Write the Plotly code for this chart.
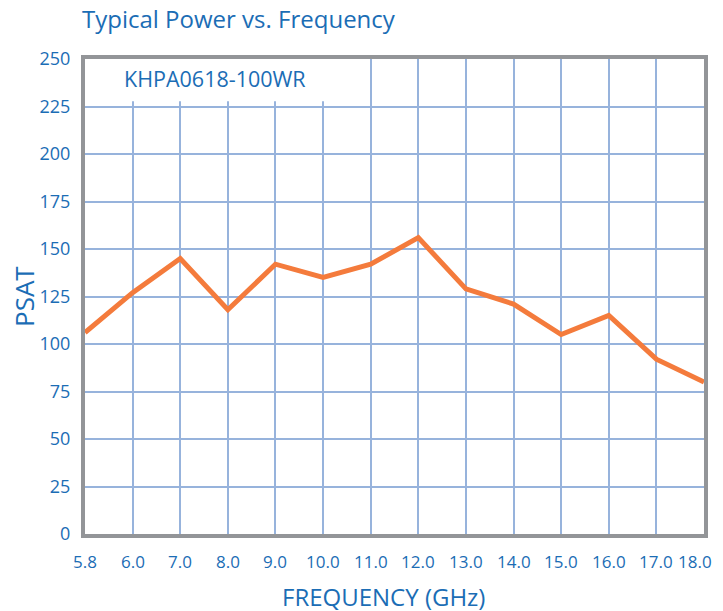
import plotly.graph_objects as go

freq_labels = ["5.8", "6.0", "7.0", "8.0", "9.0", "10.0", "11.0", "12.0",
               "13.0", "14.0", "15.0", "16.0", "17.0", "18.0"]
psat = [106, 127, 145, 118, 142, 135, 142, 156, 129, 121, 105, 115, 92, 80]
y_ticks = list(range(0, 251, 25))

BLUE = "#1b6db5"
GRID = "#97b3dc"
FRAME = "#939598"
ORANGE = "#f47b3c"
HUMAN = "Open Sans, sans-serif"

OFF = 8  # page body margin
W, H = 723 - OFF, 611 - OFF
L, R, T, B = 85 - OFF, 19, 59 - OFF, 77
PW, PH = W - L - R, H - T - B

fig = go.Figure()
fig.add_trace(go.Scatter(
    x=freq_labels, y=psat, mode="lines",
    line=dict(color=ORANGE, width=5),
    showlegend=False, hoverinfo="skip",
))

def px_x(p):
    return (p - OFF - L) / PW

def px_y(p):
    return (H - B - (p - OFF)) / PH

# x tick labels as axis-referenced annotations at each category index
# (last one nudged left so it stays inside the visible page)
tick_annotations = []
for i, lab in enumerate(freq_labels):
    last = i == len(freq_labels) - 1
    tick_annotations.append(dict(
        text=lab, xref="x", yref="paper", x=i, y=0,
        xanchor="center", yanchor="middle", yshift=-27,
        xshift=-9 if last else 0, showarrow=False,
        font=dict(family=HUMAN, size=17, color=BLUE)))

fig.update_layout(
    width=W, height=H,
    margin=dict(l=L, r=R, t=T, b=B, autoexpand=False),
    paper_bgcolor="white", plot_bgcolor="white",
    title=dict(text="Typical Power vs. Frequency", xref="container",
               x=(82 - OFF) / W, xanchor="left", yref="container",
               y=1 - (20 - OFF) / H, yanchor="middle",
               font=dict(family=HUMAN, size=24, color=BLUE)),
    xaxis=dict(
        type="category", range=[0, len(freq_labels) - 1], automargin=False,
        showgrid=True, gridcolor=GRID, gridwidth=2,
        showline=True, linecolor=FRAME, linewidth=4, mirror=True,
        ticks="", showticklabels=False,
    ),
    yaxis=dict(
        range=[0, 250], tickvals=y_ticks, automargin=False,
        showgrid=True, gridcolor=GRID, gridwidth=2, zeroline=False,
        showline=True, linecolor=FRAME, linewidth=4, mirror=True,
        ticks="", tickfont=dict(family=HUMAN, size=18, color=BLUE),
        ticklabelstandoff=7,
    ),
    shapes=[dict(type="rect", xref="x", yref="y", x0=-0.5, x1=5.5,
                 y0=227.7, y1=255, fillcolor="white", line=dict(width=0),
                 layer="between")],
    annotations=[
        dict(text="KHPA0618-100WR", xref="paper", yref="paper",
             x=px_x(122), y=px_y(78), xanchor="left", yanchor="middle",
             showarrow=False, font=dict(family=HUMAN, size=21.5, color=BLUE)),
        dict(text="FREQUENCY (GHz)", xref="paper", yref="paper",
             x=px_x(383), y=px_y(596), xanchor="center", yanchor="middle",
             showarrow=False, font=dict(family=HUMAN, size=24, color=BLUE)),
        dict(text="PSAT", xref="paper", yref="paper", textangle=-90,
             x=px_x(24), y=px_y(297), xanchor="center", yanchor="middle",
             showarrow=False, font=dict(family=HUMAN, size=26, color=BLUE)),
    ] + tick_annotations,
)

fig.write_html("out.html")
